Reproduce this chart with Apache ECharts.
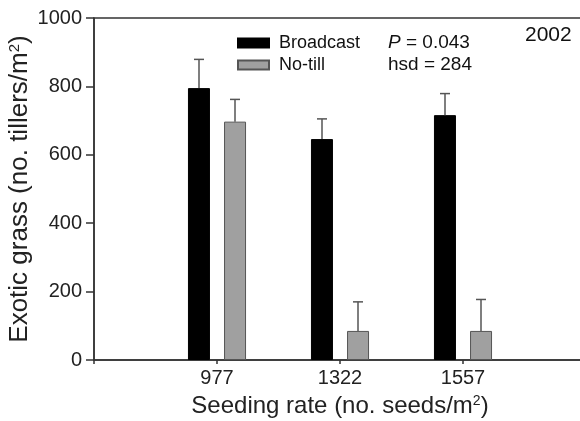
<!DOCTYPE html>
<html><head><meta charset="utf-8">
<script src="https://cdn.jsdelivr.net/npm/echarts@6/dist/echarts.min.js"></script>
<style>html,body{margin:0;padding:0;background:#fff}#c{width:580px;height:421px}</style>
</head><body><div id="c"></div>
<script>
const categories = ['977', '1322', '1557'];
const broadcast = [795, 646, 716];
const broadcastErr = [84, 59, 63];
const notill = [697, 85, 85];
const notillErr = [65, 85, 92];
const yTicks = [0, 200, 400, 600, 800, 1000];

const FONT = '"Liberation Sans", Arial, sans-serif';
const axisCats = [''].concat(categories, ['']);
const BAR_W = 22, OFFSET = 18;

function padded(arr) { return [null].concat(arr, [null]); }
function errData(means, errs) { return means.map((m, i) => [i + 1, m, m + errs[i]]); }

function errSeries(means, errs, dx) {
  return {
    type: 'custom', z: 5, silent: true,
    data: errData(means, errs),
    renderItem: function (params, api) {
      const lo = api.coord([api.value(0), api.value(1)]);
      const hi = api.coord([api.value(0), api.value(2)]);
      const x = lo[0] + dx;
      return {
        type: 'group', children: [
          { type: 'line', shape: { x1: x, y1: lo[1], x2: x, y2: hi[1] }, style: { stroke: '#555', lineWidth: 1.5 } },
          { type: 'line', shape: { x1: x - 5, y1: hi[1], x2: x + 5, y2: hi[1] }, style: { stroke: '#555', lineWidth: 1.5 } }
        ]
      };
    }
  };
}

const chart = echarts.init(document.getElementById('c'));
chart.setOption({
  animation: false,
  backgroundColor: '#fff',
  textStyle: { fontFamily: FONT },
  grid: { left: 94, right: -6, top: 18, bottom: 61, outerBoundsMode: 'none', containLabel: false,
          show: true, borderColor: '#333', borderWidth: 1.5 },
  legend: {
    orient: 'vertical', left: 237, top: 33, padding: 0, itemWidth: 31, itemHeight: 9, itemGap: 2,
    icon: 'rect',
    textStyle: { fontSize: 18, color: '#111', fontFamily: FONT, lineHeight: 20, padding: [0, 0, 0, 5] },
    data: ['Broadcast', 'No-till']
  },
  xAxis: {
    type: 'category', data: axisCats, boundaryGap: false,
    axisLine: { lineStyle: { color: '#333', width: 1.5 } },
    axisTick: { length: 4, lineStyle: { color: '#333', width: 1.5 } },
    axisLabel: { fontSize: 20, color: '#222', margin: 8, interval: 0 },
    name: 'Seeding rate (no. seeds/m{sup|2})', nameLocation: 'middle', nameGap: 34, nameMoveOverlap: false,
    nameTextStyle: { fontSize: 24, color: '#222', rich: { sup: { fontSize: 14, verticalAlign: 'top', padding: [0, 0, 10, 0] } } }
  },
  yAxis: {
    type: 'value', min: yTicks[0], max: yTicks[yTicks.length - 1], interval: 200,
    splitLine: { show: false },
    axisLine: { show: true, lineStyle: { color: '#333', width: 1.5 } },
    axisTick: { show: true, length: 8, lineStyle: { color: '#333', width: 1.5 } },
    axisLabel: { fontSize: 20, color: '#222', margin: 12, formatter: v => String(v) },
    name: 'Exotic grass (no. tillers/m{sup|2})', nameLocation: 'middle', nameGap: 61, nameMoveOverlap: false,
    nameTextStyle: { fontSize: 26, color: '#222', rich: { sup: { fontSize: 15, verticalAlign: 'top', padding: [0, 0, 11, 0] } } }
  },
  graphic: [
    { type: 'text', left: 388, top: 33, style: { text: '{i|P} = 0.043', fontSize: 19, fontFamily: FONT, fill: '#111', rich: { i: { fontStyle: 'italic', fontSize: 19, fontFamily: FONT } } } },
    { type: 'text', left: 388, top: 55, style: { text: 'hsd = 284', fontSize: 19, fontFamily: FONT, fill: '#111' } },
    { type: 'text', left: 525, top: 25, style: { text: '2002', fontSize: 21, fontFamily: FONT, fill: '#111' } }
  ],
  series: [
    { name: 'Broadcast', type: 'bar', data: padded(broadcast), barWidth: BAR_W, barGap: '64%',
      itemStyle: { color: '#000', borderColor: '#000', borderWidth: 1 } },
    { name: 'No-till', type: 'bar', data: padded(notill), barWidth: BAR_W, barGap: '64%',
      itemStyle: { color: '#a0a0a0', borderColor: '#555', borderWidth: 1 } },
    errSeries(broadcast, broadcastErr, -OFFSET),
    errSeries(notill, notillErr, OFFSET)
  ]
});
</script></body></html>
